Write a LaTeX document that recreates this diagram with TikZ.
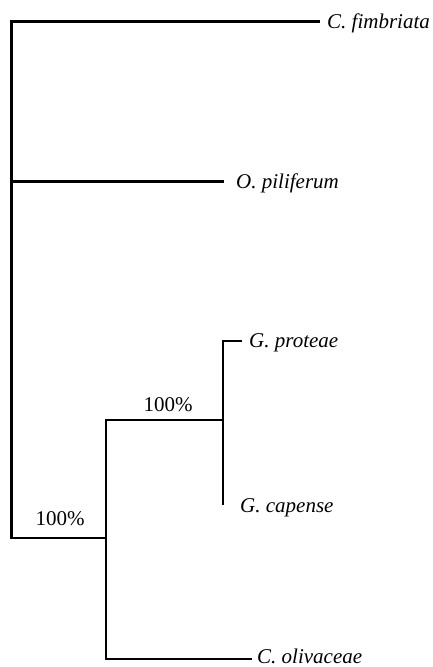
\documentclass[tikz,border=0pt]{standalone}
\usepackage{fontspec}
\setmainfont{Liberation Serif}
\begin{document}
\begin{tikzpicture}[x=1pt,y=-1pt,
  branch/.style={line width=2.6pt,line join=miter},
  tip/.style={font=\fontsize{21}{25}\selectfont\itshape,inner sep=0pt,anchor=base west},
  support/.style={font=\fontsize{21}{25}\selectfont,inner sep=0pt,anchor=base}]
\useasboundingbox (0,0) rectangle (433,667);

% branch points and branch ends
\coordinate (rootTop) at (11.5,21.7);
\coordinate (rootBot) at (11.5,538);
\coordinate (rootMid) at (11.5,181.5);
\coordinate (n1) at (106,538);
\coordinate (n2) at (223,420);
\coordinate (eFim) at (320,21.7);
\coordinate (ePil) at (224,181.5);
\coordinate (ePro) at (242,341);
\coordinate (eCap) at (223,505);
\coordinate (eOli) at (252,659);

% tree
\draw[branch] (eFim) -| (rootBot) -- (n1);
\draw[branch] (rootMid) -- (ePil);
\draw[branch] (eOli) -| (n1 |- n2) -- (n2);
\draw[branch] (ePro) -| (eCap);

% taxon labels
\node[tip] (fim) at (327,28) {C. fimbriata};
\node[tip] (pil) at (236,188) {O. piliferum};
\node[tip] (pro) at (249,347) {G. proteae};
\node[tip] (cap) at (240,512) {G. capense};
\node[tip] (oli) at (257,663.5) {C. olivaceae};

% bootstrap support
\node[support] (s1) at (168,411) {100\%};
\node[support] (s2) at (60,525) {100\%};
\end{tikzpicture}
\end{document}
